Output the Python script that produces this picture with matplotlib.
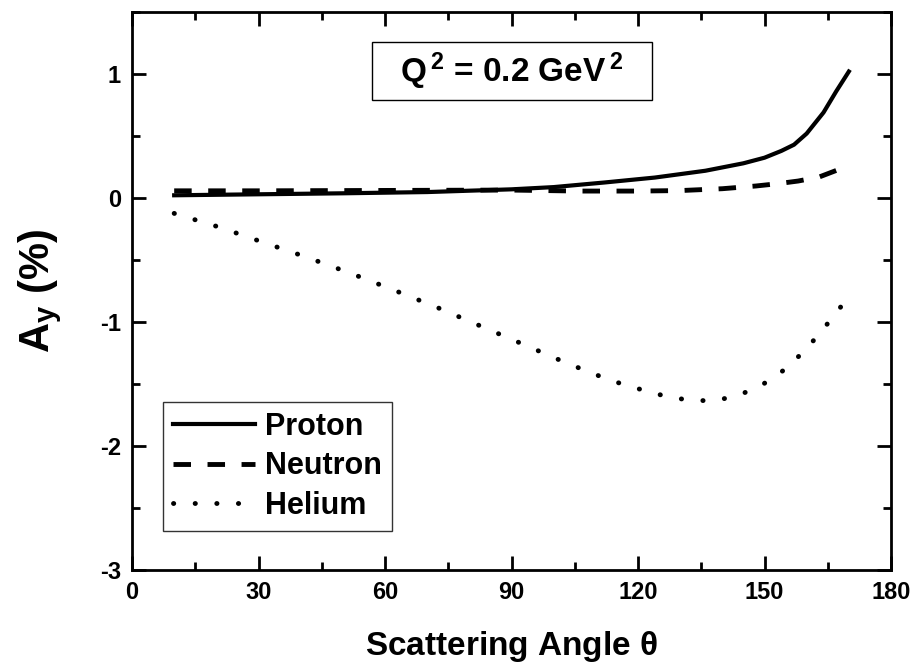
import numpy as np
import matplotlib
matplotlib.use('Agg')
import matplotlib.pyplot as plt
from matplotlib.ticker import MultipleLocator
from matplotlib.patches import Rectangle

plt.rcParams['font.family'] = ['Liberation Sans', 'DejaVu Sans']
plt.rcParams['font.weight'] = 'bold'
plt.rcParams['mathtext.default'] = 'regular'

# values
proton_x = [10, 30, 50, 70, 90, 100, 112, 124, 136, 145, 150, 154, 157, 160, 164, 167, 170]
proton_y = [0.022, 0.03, 0.038, 0.048, 0.07, 0.088, 0.125, 0.165, 0.22, 0.28, 0.325, 0.38, 0.43, 0.52, 0.69, 0.86, 1.02]

neutron_x = [10, 30, 50, 70, 90, 106, 120, 130, 140, 148, 153, 158, 163, 168]
neutron_y = [0.058, 0.058, 0.06, 0.062, 0.064, 0.056, 0.056, 0.06, 0.075, 0.097, 0.115, 0.137, 0.17, 0.235]

helium_x = [10, 20.6, 30.9, 41.3, 51.7, 61.9, 72.2, 82.5, 92.8, 103, 113.4, 123.7, 129, 134, 139,
            144.2, 149.3, 154.5, 159.6, 164, 168.5]
helium_y = [-0.124, -0.234, -0.355, -0.476, -0.605, -0.74, -0.88, -1.03, -1.18, -1.33, -1.47, -1.575,
            -1.615, -1.635, -1.63, -1.586, -1.51, -1.39, -1.23, -1.054, -0.86]

fig = plt.figure(figsize=(9.18, 6.67), dpi=100)
ax = fig.add_axes([0.1438, 0.1454, 0.8268, 0.8366])

ax.plot(proton_x, proton_y, color='black', lw=3.0, label='Proton')
ax.plot(neutron_x, neutron_y, color='black', lw=3.5, dashes=(3.6, 3.4), label='Neutron')
ax.plot(helium_x, helium_y, color='black', lw=3.5, dashes=(0.05, 4.4),
        dash_capstyle='round', label='Helium')

ax.set_xlim(0, 180)
ax.set_ylim(-3, 1.5)
ax.xaxis.set_major_locator(MultipleLocator(30))
ax.xaxis.set_minor_locator(MultipleLocator(15))
ax.yaxis.set_minor_locator(MultipleLocator(0.5))
ax.set_yticks([-3, -2, -1, 0, 1])
ax.set_yticklabels(['-3', '-2', '-1', '0', '1'])

ax.tick_params(which='both', direction='in', top=True, right=True, width=2)
ax.tick_params(which='major', length=10, labelsize=17, pad=8)
ax.tick_params(which='minor', length=6)
for s in ax.spines.values():
    s.set_linewidth(2)

ax.set_xlabel(r'Scattering Angle $\theta$', fontsize=24, fontweight='bold', labelpad=18)
ax.set_ylabel(r'A$_y$ (%)', fontsize=30, fontweight='bold', labelpad=26)

# boxed annotation (Origin-style text box, wider than tall)
ax.add_patch(Rectangle((0.3162, 0.8423), 0.3689, 0.1039, transform=ax.transAxes,
                       fc='white', ec='black', lw=1, zorder=3))
ax.text(0.5007, 0.894, r'Q$^{\,2}$ = 0.2 GeV$^{\,2}$', transform=ax.transAxes, ha='center', va='center',
        fontsize=24, fontweight='bold', zorder=4)

leg = ax.legend(loc='lower left', bbox_to_anchor=(0.0408, 0.07), fontsize=22, frameon=True,
                fancybox=False, handlelength=2.7, handletextpad=0.33, borderpad=0.32,
                labelspacing=0.32, borderaxespad=0)
leg.get_frame().set_edgecolor('black')
leg.get_frame().set_linewidth(1)

fig.savefig('out.png', dpi=100)
